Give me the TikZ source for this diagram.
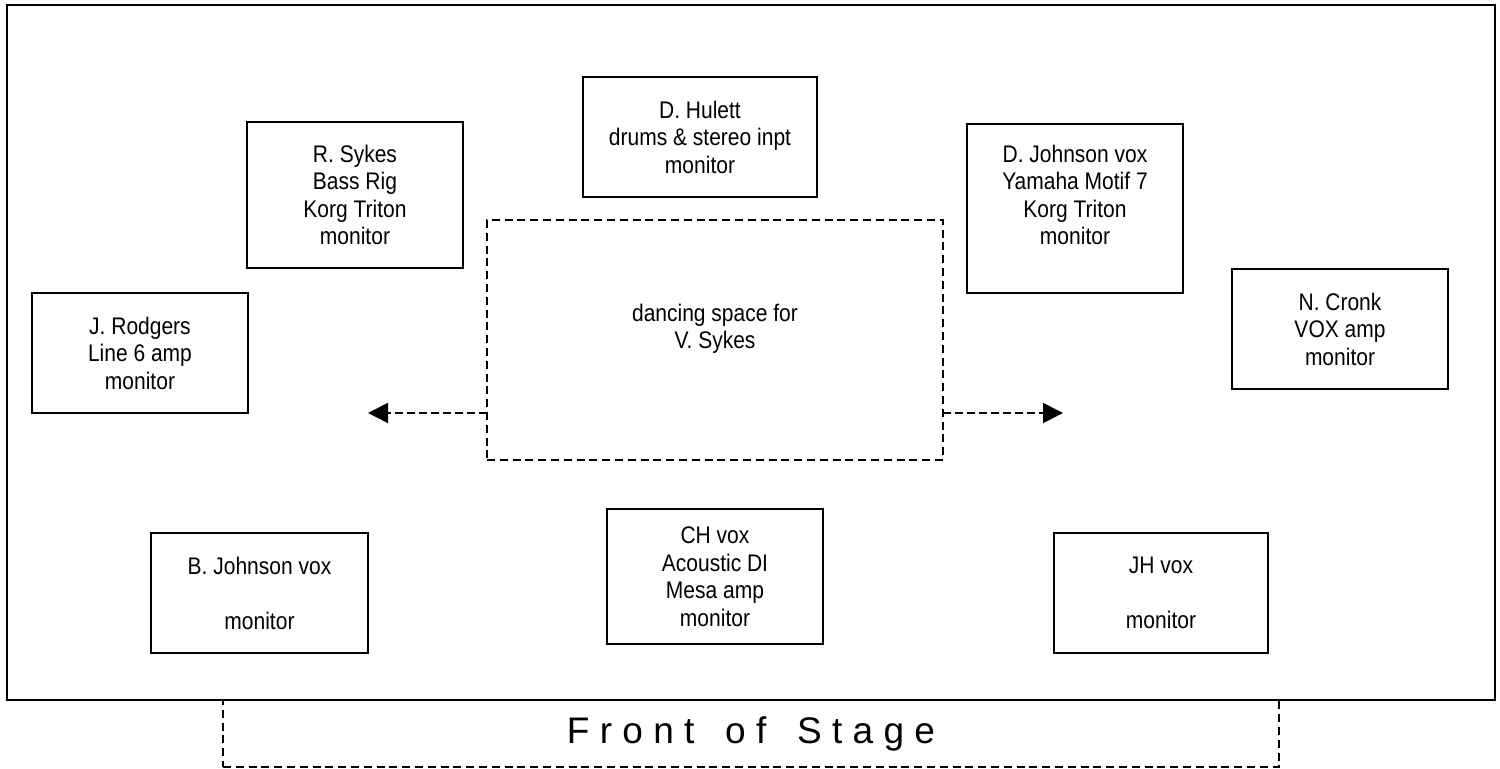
\documentclass[tikz,border=0pt]{standalone}
\usepackage{fontspec}
\setmainfont{Liberation Sans}
\newfontfamily\narrowfont[FakeStretch=0.875]{Liberation Sans}
\usepackage{tikz}
\usetikzlibrary{arrows.meta}
\newcommand{\unitfont}{\narrowfont\fontsize{12}{13.75}\selectfont}
\tikzset{unit/.style={draw,line width=0.8pt,align=center,inner sep=0pt,outer sep=0pt,anchor=north west,font=\unitfont},
	 zone/.style={unit,dash pattern=on 4pt off 2.4pt},
	 move/.style={line width=0.8pt,dash pattern=on 4pt off 2pt,-{Triangle[length=10pt,width=10pt]}},
	 x=0.5pt, y=-0.5pt
	 }
\begin{document}
\begin{tikzpicture} % stage plot, 1 unit = 1 px
	\useasboundingbox (0,0) rectangle (1500,769);
	\node[unit,line width=1pt,minimum width=744pt,minimum height=347.5pt] (stage) at (7,5) {};
	\node[zone,minimum width=528pt,minimum height=33.5pt,font=\fontsize{18.5}{22}\selectfont] (front) at (223,700) {F r o n t\ \ \ o f\ \ \ S t a g e};
	\node[unit,minimum width=117pt,minimum height=60pt] (hulett) at (583,77) {D. Hulett\\drums \& stereo inpt\\monitor};
	\node[unit,minimum width=108pt,minimum height=73pt] (rsykes) at (247,122) {R. Sykes\\Bass Rig\\Korg Triton\\monitor};
	\node[unit,minimum width=108pt,minimum height=84.5pt] (djohnson) at (967,124) {D. Johnson vox\\Yamaha Motif 7\\Korg Triton\\monitor\\\mbox{}};
	\node[unit,minimum width=108pt,minimum height=60pt] (jrodgers) at (32,293) {J. Rodgers\\Line 6 amp\\monitor};
	\node[unit,minimum width=108pt,minimum height=60pt] (ncronk) at (1232,269) {N. Cronk\\VOX amp\\monitor};
	\node[zone,minimum width=228pt,minimum height=120pt] (dance) at (487,220) {dancing space for\\V. Sykes\\\mbox{}};
	\node[unit,minimum width=108.5pt,minimum height=60pt] (bjohnson) at (151,533) {B. Johnson vox\\\mbox{}\\monitor};
	\node[unit,minimum width=108pt,minimum height=67.5pt] (chvox) at (607,509) {CH vox\\Acoustic DI\\Mesa amp\\monitor};
	\node[unit,minimum width=107pt,minimum height=60pt] (jhvox) at (1054,533) {JH vox\\\mbox{}\\monitor};
	\coordinate (lefttip) at (368,413);
	\coordinate (righttip) at (1063,413);
	\draw[move] (dance.west |- lefttip) to (lefttip);
	\draw[move] (dance.east |- righttip) to (righttip);
\end{tikzpicture}
\end{document}
